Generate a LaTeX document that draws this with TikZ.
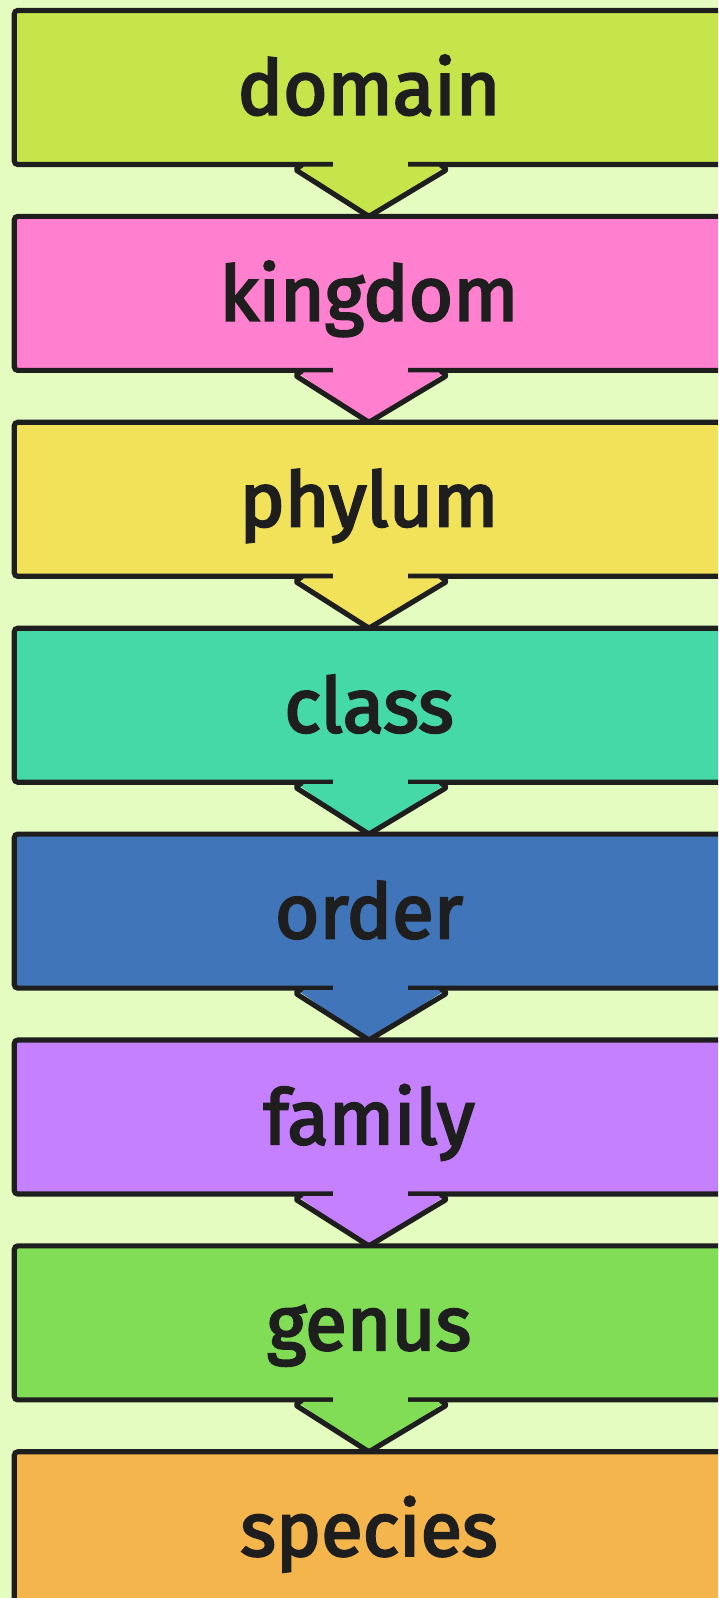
\documentclass[tikz,border=0pt]{standalone}
\usepackage{fontspec}
\setmainfont{Fira Sans}
\newfontfamily\lblfont{Fira Sans}[FakeBold=3]
\usetikzlibrary{calc}
\definecolor{bg}{HTML}{E4FCC0}
\definecolor{ink}{HTML}{1E1E1E}
\definecolor{cdomain}{HTML}{C6E54B}
\definecolor{ckingdom}{HTML}{FF80CE}
\definecolor{cphylum}{HTML}{F2E25A}
\definecolor{cclass}{HTML}{45D9A8}
\definecolor{corder}{HTML}{4075B9}
\definecolor{cfamily}{HTML}{C580FF}
\definecolor{cgenus}{HTML}{80DD55}
\definecolor{cspecies}{HTML}{F4B64C}
\tikzset{
  rankbox/.style={draw=ink, line width=4.4pt, rounded corners=3pt, inner sep=0pt, outer sep=0pt,
    minimum width=21.78cm, minimum height=4.62cm},
  ranklabel/.style={anchor=base, inner sep=0pt, text=ink, font=\lblfont\fontsize{65}{78}\selectfont},
  arrowline/.style={draw=ink, line width=4.4pt, line join=round, line cap=round, rounded corners=2pt}
}
\newcommand\flowarrow[3]{%
  \fill[#3] ($(#1.south west)+(283,2)$) -- ($(#2.north west)+(354.7,0)$) -- ($(#1.south west)+(431,2)$) -- cycle;
  \fill[#3] ($(#1.south west)+(318.7,-3.5)$) rectangle ($(#1.south west)+(393.7,8)$);
  \draw[arrowline] ($(#1.south west)+(287,1)$) -- ($(#1.south west)+(281,5)$) -- ($(#2.north west)+(354.7,0)$) -- ($(#1.south west)+(432.7,5)$) -- ($(#1.south west)+(427,1)$);
}
\begin{document}
\begin{tikzpicture}[x=0.03cm,y=-0.03cm]
\useasboundingbox (0,0) rectangle (718,1598);
\clip (0,0) rectangle (718,1598);
\fill[bg] (0,0) rectangle (718,1598);
\foreach \n/\c/\t [count=\k from 0] in {1/cdomain/domain,2/ckingdom/kingdom,3/cphylum/phylum,4/cclass/class,5/corder/order,6/cfamily/family,7/cgenus/genus,8/cspecies/species}{
  \node[rankbox, fill=\c] (b\n) at (377.3, 10.5+205.9*\k+77) {};
  \node[ranklabel] (t\n) at ($(b\n.north west)+(354.7,104)$) {\t};
}
\flowarrow{b1}{b2}{cdomain}
\flowarrow{b2}{b3}{ckingdom}
\flowarrow{b3}{b4}{cphylum}
\flowarrow{b4}{b5}{cclass}
\flowarrow{b5}{b6}{corder}
\flowarrow{b6}{b7}{cfamily}
\flowarrow{b7}{b8}{cgenus}
\end{tikzpicture}
\end{document}
